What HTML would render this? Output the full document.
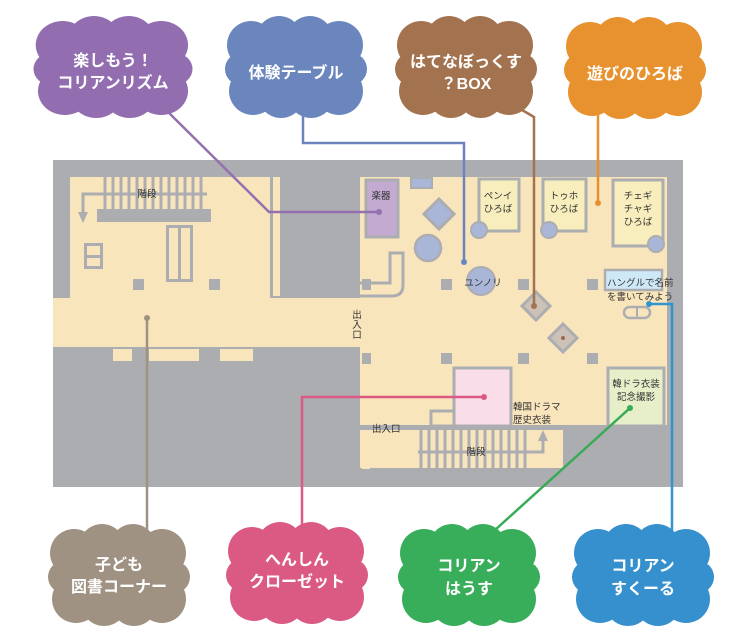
<!DOCTYPE html>
<html><head><meta charset="utf-8"><style>
html,body{margin:0;padding:0;background:#fff}
svg{display:block}
text{font-family:"Liberation Sans","Noto Sans CJK JP",sans-serif}
.m{font-size:9.5px;fill:#333}
.c{font-size:16px;fill:#fff;font-weight:bold;text-anchor:middle}
</style></head><body>
<svg width="744" height="643" viewBox="0 0 744 643" xmlns="http://www.w3.org/2000/svg">
<defs>
<g id="cl">
<ellipse cx="0" cy="0" rx="62" ry="40"/>
<circle cx="-45" cy="-22" r="24"/><circle cx="-17" cy="-28" r="23"/><circle cx="14" cy="-28" r="23"/><circle cx="43" cy="-22" r="24"/>
<circle cx="-55" cy="2" r="16"/><circle cx="55" cy="2" r="16"/>
<circle cx="-43" cy="24" r="24"/><circle cx="-15" cy="28" r="23"/><circle cx="15" cy="28" r="23"/><circle cx="43" cy="24" r="24"/>
</g>
</defs>
<!-- map -->
<rect x="53" y="160" width="630" height="327" fill="#acadb0"/>
<g fill="#f9e5bb">
<rect x="70" y="177" width="200" height="121"/>
<rect x="53" y="298" width="614" height="49"/>
<rect x="273" y="177" width="7" height="119"/>
<rect x="360" y="177" width="307" height="249"/>
<rect x="360" y="430" width="203" height="38"/>
<rect x="362" y="347" width="8" height="122"/>
<rect x="113" y="349" width="19" height="12"/><rect x="149" y="349" width="50" height="12"/><rect x="220" y="349" width="33" height="12"/>
</g>
<!-- left stairs -->
<g fill="#acadb0">
<rect x="97" y="209" width="114" height="13"/>
<rect x="166" y="225" width="27" height="57"/>
<rect x="84" y="243" width="19" height="26"/>
<rect x="133" y="279" width="11" height="11"/><rect x="209" y="279" width="11" height="11"/>
<rect x="441" y="279" width="11" height="11"/><rect x="518" y="279" width="11" height="11"/><rect x="587" y="279" width="11" height="11"/>
<rect x="441" y="353" width="11" height="11"/><rect x="518" y="353" width="11" height="11"/><rect x="587" y="353" width="11" height="11"/>
<rect x="362" y="353" width="9" height="11"/><rect x="362" y="279" width="9" height="11"/>
</g>
<g fill="#f9e5bb"><rect x="169" y="228" width="9" height="51"/><rect x="181" y="228" width="9" height="51"/><rect x="87" y="246" width="13" height="9"/><rect x="87" y="258" width="13" height="8"/></g>
<g stroke="#acadb0" stroke-width="3">
<line x1="105" y1="177" x2="105" y2="209"/><line x1="113" y1="177" x2="113" y2="209"/><line x1="121" y1="177" x2="121" y2="209"/><line x1="129" y1="177" x2="129" y2="209"/><line x1="137" y1="177" x2="137" y2="209"/><line x1="145" y1="177" x2="145" y2="209"/><line x1="153" y1="177" x2="153" y2="209"/><line x1="161" y1="177" x2="161" y2="209"/><line x1="169" y1="177" x2="169" y2="209"/><line x1="177" y1="177" x2="177" y2="209"/><line x1="185" y1="177" x2="185" y2="209"/><line x1="193" y1="177" x2="193" y2="209"/><line x1="201" y1="177" x2="201" y2="209"/>
<polyline points="207,194 83,194 83,212" fill="none"/>
</g>
<polygon points="78,212 88,212 83,223" fill="#acadb0"/>
<!-- right items -->
<rect x="366" y="180" width="32" height="57" fill="#c3aad0" stroke="#acadb0" stroke-width="3"/>
<rect x="411" y="178" width="21" height="10" fill="#aab6d8" stroke="#acadb0" stroke-width="2"/>
<polygon points="439,199 454,214 439,229 424,214" fill="#aab6d8" stroke="#acadb0" stroke-width="3"/>
<circle cx="428" cy="248" r="13" fill="#aab6d8" stroke="#acadb0" stroke-width="2.5"/>
<path d="M360,283 H390 V253 H403 V285 Q403,296 392,296 H360" fill="none" stroke="#acadb0" stroke-width="3"/>
<rect x="479" y="179" width="40" height="52" fill="#f8eebd" stroke="#acadb0" stroke-width="3"/>
<circle cx="479" cy="230" r="8" fill="#aab6d8" stroke="#acadb0" stroke-width="2"/>
<rect x="543" y="179" width="43" height="52" fill="#f8eebd" stroke="#acadb0" stroke-width="3"/>
<circle cx="549" cy="230" r="8" fill="#aab6d8" stroke="#acadb0" stroke-width="2"/>
<rect x="613" y="180" width="50" height="66" fill="#f8eebd" stroke="#acadb0" stroke-width="3"/>
<circle cx="656" cy="244" r="8" fill="#aab6d8" stroke="#acadb0" stroke-width="2"/>
<circle cx="481" cy="281" r="14" fill="#aab6d8" stroke="#acadb0" stroke-width="2"/>
<polygon points="536,292 550,306 536,320 522,306" fill="#cbc1b7" stroke="#acadb0" stroke-width="3"/>
<polygon points="563,324 577,338 563,352 549,338" fill="#cbc1b7" stroke="#acadb0" stroke-width="3"/>
<circle cx="563" cy="338" r="2" fill="#9b6a4a"/>
<rect x="605" y="270" width="57" height="20" fill="#cfe8f8" stroke="#acadb0" stroke-width="2.5"/>
<rect x="624" y="307" width="26" height="11" rx="5.5" fill="none" stroke="#acadb0" stroke-width="2.5"/>
<line x1="637" y1="307" x2="637" y2="318" stroke="#acadb0" stroke-width="2"/>
<rect x="608" y="368" width="56" height="58" fill="#e6efca" stroke="#acadb0" stroke-width="3"/>
<rect x="454" y="368" width="57" height="58" fill="#f9dee9" stroke="#acadb0" stroke-width="3"/>
<rect x="431" y="411" width="23" height="15" fill="none" stroke="#acadb0" stroke-width="3"/>
<rect x="360" y="425" width="323" height="5" fill="#acadb0"/>
<rect x="563" y="425" width="120" height="62" fill="#acadb0"/>
<g stroke="#acadb0" stroke-width="3">
<line x1="421" y1="430" x2="421" y2="468"/><line x1="429" y1="430" x2="429" y2="468"/><line x1="437" y1="430" x2="437" y2="468"/><line x1="445" y1="430" x2="445" y2="468"/><line x1="453" y1="430" x2="453" y2="468"/><line x1="461" y1="430" x2="461" y2="468"/><line x1="469" y1="430" x2="469" y2="468"/><line x1="477" y1="430" x2="477" y2="468"/><line x1="485" y1="430" x2="485" y2="468"/><line x1="493" y1="430" x2="493" y2="468"/><line x1="501" y1="430" x2="501" y2="468"/><line x1="509" y1="430" x2="509" y2="468"/><line x1="517" y1="430" x2="517" y2="468"/><line x1="525" y1="430" x2="525" y2="468"/>
<polyline points="418,452 543,452 543,440" fill="none"/>
</g>
<polygon points="538,441 548,441 543,430" fill="#acadb0"/>
<!-- map labels -->
<text class="m" x="147" y="197" text-anchor="middle">階段</text>
<text class="m" x="381" y="199" text-anchor="middle">楽器</text>
<text class="m" x="498" y="199" text-anchor="middle">ペンイ</text><text class="m" x="498" y="212" text-anchor="middle">ひろば</text>
<text class="m" x="564" y="199" text-anchor="middle">トゥホ</text><text class="m" x="564" y="212" text-anchor="middle">ひろば</text>
<text class="m" x="638" y="199" text-anchor="middle">チェギ</text><text class="m" x="638" y="212" text-anchor="middle">チャギ</text><text class="m" x="638" y="225" text-anchor="middle">ひろば</text>
<text class="m" x="483" y="286" text-anchor="middle">ユンノリ</text>
<text class="m" x="357" y="318" text-anchor="middle">出</text><text class="m" x="357" y="328" text-anchor="middle">入</text><text class="m" x="357" y="338" text-anchor="middle">口</text>
<text class="m" x="607" y="286">ハングルで名前</text><text class="m" x="607" y="300">を書いてみよう</text>
<text class="m" x="636" y="387" text-anchor="middle">韓ドラ衣装</text><text class="m" x="636" y="400" text-anchor="middle">記念撮影</text>
<text class="m" x="513" y="410">韓国ドラマ</text><text class="m" x="513" y="423">歴史衣装</text>
<text class="m" x="372" y="432">出入口</text>
<text class="m" x="476" y="455" text-anchor="middle">階段</text>
<!-- connectors -->
<g fill="none" stroke-width="2.5">
<polyline points="163,107 269,212 379,212" stroke="#9470b0"/>
<polyline points="303,115 303,143 464,143 464,262" stroke="#6a84bd"/>
<polyline points="517,107 534,117 534,306" stroke="#a3734f"/>
<polyline points="598,112 598,203" stroke="#e8902f"/>
<polyline points="147,318 147,532" stroke="#a09282"/>
<polyline points="484,397 302,397 302,530" stroke="#db5a84"/>
<polyline points="630,408 495,530" stroke="#38ab57"/>
<polyline points="649,304 672,304 672,534" stroke="#2e95d0"/>
</g>
<circle cx="379" cy="212" r="3" fill="#9470b0"/><circle cx="464" cy="262" r="3" fill="#6a84bd"/><circle cx="534" cy="306" r="3" fill="#a3734f"/><circle cx="598" cy="203" r="3" fill="#e8902f"/><circle cx="147" cy="318" r="3" fill="#a09282"/><circle cx="484" cy="397" r="3" fill="#db5a84"/><circle cx="630" cy="408" r="3" fill="#38ab57"/><circle cx="649" cy="304" r="3" fill="#2e95d0"/>
<!-- clouds -->
<use href="#cl" transform="translate(113,67) scale(1.12,1)" fill="#926eb0"/>
<use href="#cl" transform="translate(296,67)" fill="#6a86bd"/>
<use href="#cl" transform="translate(466,67)" fill="#a3734f"/>
<use href="#cl" transform="translate(635,68)" fill="#e8922f"/>
<use href="#cl" transform="translate(119,575)" fill="#a09282"/>
<use href="#cl" transform="translate(297,573)" fill="#db5a84"/>
<use href="#cl" transform="translate(469,575)" fill="#38ae5a"/>
<use href="#cl" transform="translate(643,575)" fill="#3590cd"/>
<text class="c" x="113" y="66">楽しもう！</text><text class="c" x="113" y="88">コリアンリズム</text>
<text class="c" x="296" y="78">体験テーブル</text>
<text class="c" x="466" y="67">はてなぼっくす</text><text class="c" x="466" y="89">？BOX</text>
<text class="c" x="635" y="79">遊びのひろば</text>
<text class="c" x="119" y="570">子ども</text><text class="c" x="119" y="592">図書コーナー</text>
<text class="c" x="297" y="565">へんしん</text><text class="c" x="297" y="587">クローゼット</text>
<text class="c" x="469" y="571">コリアン</text><text class="c" x="469" y="594">はうす</text>
<text class="c" x="643" y="571">コリアン</text><text class="c" x="643" y="594">すくーる</text>
</svg>
</body></html>
